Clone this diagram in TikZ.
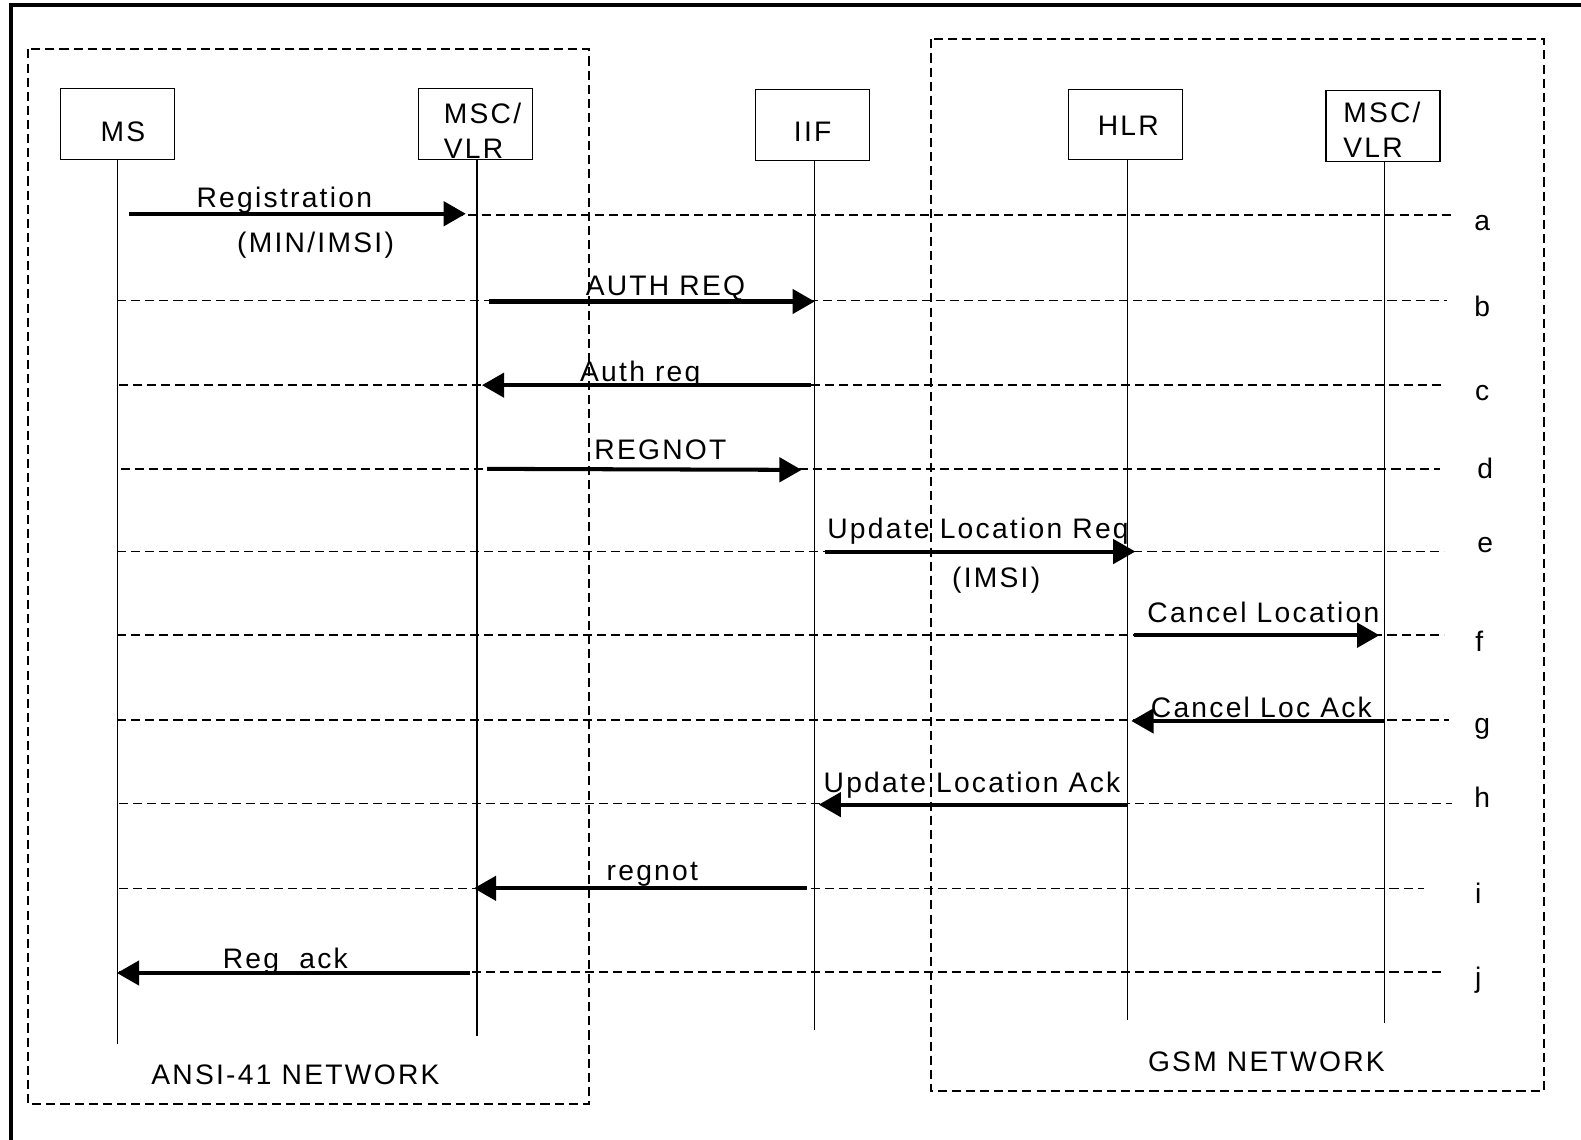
\documentclass[tikz,border=0pt]{standalone}
\usepackage{fontspec}
\setmainfont{Liberation Sans}[LetterSpace=8]
\usetikzlibrary{arrows.meta}
\begin{document}
\begin{tikzpicture}[x=1pt,y=-1pt,
  font=\fontsize{28}{33}\selectfont,
  box/.style={draw,line width=1.3pt,minimum width=113pt,minimum height=70pt,inner sep=0pt},
  life/.style={line width=1.3pt},
  row/.style={line width=1.5pt,dash pattern=on 9pt off 5pt},
  area/.style={line width=2pt,dash pattern=on 9pt off 5pt},
  msg/.style={line width=4pt,-{Triangle[length=22pt,width=24pt]}},
  lbl/.style={inner sep=0pt,anchor=base}]
\useasboundingbox (0,0) rectangle (1568,1130);
% outer frame
\draw[line width=3.5pt] (11,1131) -- (11,5) -- (1569,5);
% network areas
\draw[area] (28,49) rectangle (584,1095);
\draw[area] (923,39) rectangle (1531,1082);
\node[lbl] (ansi) at (293,1076) {ANSI-41 NETWORK};
\node[lbl] (gsm) at (1256,1063) {GSM NETWORK};
% entities
\node[box] (ms) at (116.5,123) {};
\node[lbl] (mst) at (122,140) {MS};
\node[box] (msc1) at (471.5,123) {};
\node[lbl,anchor=base west] (msc1a) at (440,122) {MSC/};
\node[lbl,anchor=base west] (msc1b) at (440,157) {VLR};
\node[box] (iif) at (806,124) {};
\node[lbl] (iift) at (806,140) {IIF};
\node[box] (hlr) at (1116,123.5) {};
\node[lbl] (hlrt) at (1119,134) {HLR};
\node[box] (msc2) at (1371.5,125) {};
\node[lbl,anchor=base west] (msc2a) at (1332,121) {MSC/};
\node[lbl,anchor=base west] (msc2b) at (1332,156) {VLR};
% lifeline ends
\coordinate (msend) at (116.5,1035);
\coordinate (msc1end) at (473,1027);
\coordinate (iifend) at (808,1022);
\coordinate (hlrend) at (1118,1012);
\coordinate (msc2end) at (1373,1015);
\draw[life] (116.5,158) coordinate (mstop) -- (msend);
\draw[life] (473,158) coordinate (msc1top) -- (msc1end);
\draw[life] (808,159) coordinate (iiftop) -- (iifend);
\draw[life] (1118,158) coordinate (hlrtop) -- (hlrend);
\draw[life] (1373,160) coordinate (msc2top) -- (msc2end);
% dashed rows
\coordinate (ra1) at (128,213);  \coordinate (ra2) at (1442,213);
\coordinate (rb1) at (116,298);  \coordinate (rb2) at (1435,298);
\coordinate (rc1) at (118,382);  \coordinate (rc2) at (1432,382);
\coordinate (rd1) at (120,465);  \coordinate (rd2) at (1428,465);
\coordinate (re1) at (116,547);  \coordinate (re2) at (1432,547);
\coordinate (rf1) at (116,630);  \coordinate (rf2) at (1432,630);
\coordinate (rg1) at (116,714);  \coordinate (rg2) at (1437,714);
\coordinate (rh1) at (118,797);  \coordinate (rh2) at (1440,797);
\coordinate (ri1) at (118,881);  \coordinate (ri2) at (1412,881);
\coordinate (rj1) at (118,964);  \coordinate (rj2) at (1432,964);
\foreach \r in {a,b,c,d,e,f,g,h,i,j} \draw[row] (r\r1) -- (r\r2);
\node[lbl] (la) at (1470,229) {a};
\node[lbl] (lb) at (1470,314) {b};
\node[lbl] (lc) at (1470,397) {c};
\node[lbl] (ld) at (1473,475) {d};
\node[lbl] (le) at (1473,548) {e};
\node[lbl] (lf) at (1467,646) {f};
\node[lbl] (lg) at (1470,727) {g};
\node[lbl] (lh) at (1470,801) {h};
\node[lbl] (li) at (1466,896) {i};
\node[lbl] (lj) at (1466,979) {j};
% messages
\coordinate (ma1) at (128,212);  \coordinate (ma2) at (462,212);
\coordinate (mb1) at (485,299);  \coordinate (mb2) at (808,299);
\coordinate (mc1) at (804,382);  \coordinate (mc2) at (478,382);
\coordinate (md1) at (483,465);  \coordinate (md2) at (795,466);
\coordinate (me1) at (818,547);  \coordinate (me2) at (1126,547);
\coordinate (mf1) at (1125,630); \coordinate (mf2) at (1368,630);
\coordinate (mg1) at (1373,715); \coordinate (mg2) at (1122,715);
\coordinate (mh1) at (1118,798); \coordinate (mh2) at (812,798);
\coordinate (mi1) at (800,881);  \coordinate (mi2) at (470,881);
\coordinate (mj1) at (466,965);  \coordinate (mj2) at (116,965);
\foreach \m in {a,b,c,d,e,f,g,h,i,j} \draw[msg] (m\m1) -- (m\m2);
\node[lbl] (ta) at (282,206) {Registration};
\node[lbl] (ta2) at (313,250) {(MIN/IMSI)};
\node[lbl] (tb) at (660,293) {AUTH REQ};
\node[lbl] (tc) at (635,378) {Auth req};
\node[lbl] (td) at (655,456) {REGNOT};
\node[lbl] (te) at (970,534) {Update Location Req};
\node[lbl] (te2) at (988,583) {(IMSI)};
\node[lbl] (tf) at (1253,617) {Cancel Location};
\node[lbl] (tg) at (1251,712) {Cancel Loc Ack};
\node[lbl] (th) at (964,786) {Update Location Ack};
\node[lbl] (ti) at (647,873) {regnot};
\node[lbl] (tj) at (283,961) {Reg\ \ ack};
\end{tikzpicture}
\end{document}
